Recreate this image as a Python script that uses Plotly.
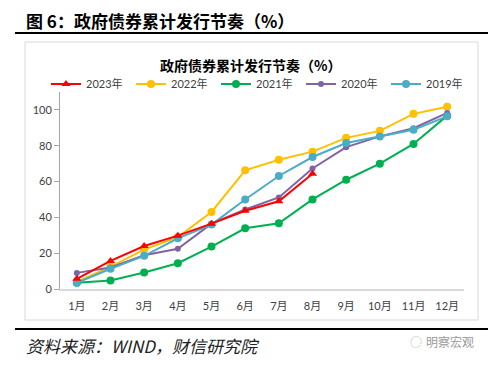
import plotly.graph_objects as go

months = ["1月", "2月", "3月", "4月", "5月", "6月", "7月", "8月", "9月", "10月", "11月", "12月"]
y2023 = [5.7, 15.7, 24.0, 29.8, 36.5, 43.7, 49.0, 64.4]
y2022 = [4.0, 12.5, 22.0, 29.0, 43.0, 66.3, 72.2, 76.7, 84.4, 88.3, 97.8, 101.8]
y2021 = [3.5, 4.8, 9.2, 14.4, 23.7, 33.9, 36.7, 50.0, 61.0, 70.0, 81.0, 96.8]
y2020 = [9.0, 12.0, 18.8, 22.5, 36.5, 44.4, 51.1, 67.3, 79.2, 85.2, 89.8, 98.3]
y2019 = [3.5, 11.3, 18.5, 28.3, 36.0, 50.0, 63.1, 73.7, 81.5, 85.2, 88.9, 96.4]
yticks = [0, 20, 40, 60, 80, 100]

FONT = "Lato, 'Noto Sans CJK SC', sans-serif"
CJK = "'Noto Sans CJK SC', sans-serif"

# page body has an 8px margin; compensate
OFF = 8
W, H = 500 - OFF, 365 - OFF
# plot area in reference pixels
L, R, T, B = 60, 464, 92, 289


def px(x):
    return (x - L) / (R - L)


def py(y):
    return (B - y) / (B - T)


fig = go.Figure()
series = [
    ("2022年", months, y2022, "#FFC000", "circle", 8, 2),
    ("2021年", months, y2021, "#00B050", "circle", 8, 3),
    ("2020年", months, y2020, "#8064A2", "circle", 6, 4),
    ("2019年", months, y2019, "#4BACC6", "circle", 8, 5),
    ("2023年", months[:len(y2023)], y2023, "#FF0000", "triangle-up", 8, 1),
]
for name, xs, ys, col, sym, sz, rank in series:
    fig.add_trace(go.Scatter(
        x=xs, y=ys, name=name, mode="lines+markers",
        line=dict(color=col, width=2),
        marker=dict(color=col, symbol=sym, size=sz),
        legendrank=rank,
    ))

fig.update_layout(
    width=W, height=H,
    margin=dict(l=L - OFF, r=500 - R, t=T - OFF, b=365 - B, autoexpand=False),
    paper_bgcolor="white", plot_bgcolor="white",
    font=dict(family=FONT, size=11, color="#404040"),
    showlegend=True,
    legend=dict(
        orientation="h", x=px(46), y=py(84), xanchor="left", yanchor="middle",
        traceorder="normal", entrywidth=40, entrywidthmode="pixels",
        font=dict(family=FONT, size=11, color="#404040"),
        bgcolor="rgba(0,0,0,0)", itemclick=False,
    ),
    xaxis=dict(
        type="category", categoryorder="array", categoryarray=months,
        range=[-0.5, 11.5], showgrid=False, zeroline=False,
        showline=True, linecolor="#D9D9D9", linewidth=1.5,
        ticks="", ticklabelstandoff=6,
        tickfont=dict(family=FONT, size=11, color="#404040"),
        fixedrange=True,
    ),
    yaxis=dict(
        range=[0, 110], tickvals=yticks, showgrid=False, zeroline=False,
        showline=True, linecolor="#A6A6A6", linewidth=1,
        ticks="outside", ticklen=5, tickcolor="#A6A6A6",
        tickfont=dict(family=FONT, size=11, color="#404040"),
        fixedrange=True,
    ),
)

shapes = [
    dict(type="rect", xref="paper", yref="paper",
         x0=px(25), x1=px(478), y0=py(320), y1=py(42),
         line=dict(color="#D9D9D9", width=1), fillcolor="rgba(0,0,0,0)", layer="below"),
    dict(type="line", xref="paper", yref="paper",
         x0=px(15), x1=px(488), y0=py(33), y1=py(33),
         line=dict(color="black", width=2)),
    dict(type="line", xref="paper", yref="paper",
         x0=px(15), x1=px(488), y0=py(329), y1=py(329),
         line=dict(color="black", width=2)),
]
fig.update_layout(shapes=shapes)

annotations = [
    dict(text="<b>图 6：政府债券累计发行节奏（%）</b>", x=px(24), y=py(20),
         font=dict(family=CJK, size=17, color="black"), xanchor="left"),
    dict(text="<b>政府债券累计发行节奏（%）</b>", x=px(250), y=py(65),
         font=dict(family=CJK, size=14, color="black"), xanchor="center"),
    dict(text="资料来源：WIND，财信研究院", x=px(24), y=py(345),
         font=dict(family="'Noto Sans CJK SC', serif", size=17, color="#222222", style="italic"),
         xanchor="left"),
    dict(text="明察宏观", x=px(476), y=py(341),
         font=dict(family=CJK, size=12, color="#9A9A9A"), xanchor="right"),
    dict(text="◌", x=px(424), y=py(341),
         font=dict(family=CJK, size=12, color="#B0B0B0"), xanchor="right"),
]
for a in annotations:
    a.update(xref="paper", yref="paper", yanchor="middle", showarrow=False)
fig.update_layout(annotations=annotations)

fig.write_html("out.html")
